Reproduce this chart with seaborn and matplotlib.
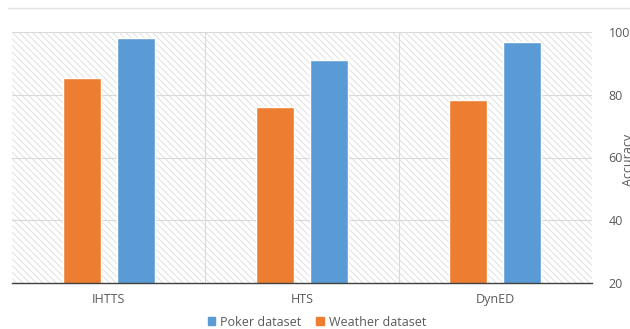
import matplotlib
matplotlib.use('Agg')
import matplotlib.pyplot as plt
import pandas as pd
import seaborn as sns
from matplotlib.patches import Rectangle

methods = ["IHTTS", "HTS", "DynED"]
weather_acc = [85.4, 76.2, 78.2]
poker_acc = [98.1, 91.2, 96.9]
y_ticks = [20, 40, 60, 80, 100]

df = pd.DataFrame({
    "method": methods * 2,
    "dataset": ["Weather dataset"] * 3 + ["Poker dataset"] * 3,
    "accuracy": weather_acc + poker_acc,
})

sns.set_theme(style="white")
plt.rcParams['font.family'] = ['Open Sans', 'DejaVu Sans']
plt.rcParams['hatch.linewidth'] = 0.6
text_col = "#595959"

fig = plt.figure(figsize=(6.3, 3.29), dpi=100)
ax = fig.add_axes([12 / 630, 46 / 329, 580 / 630, 251 / 329])

# hatched plot background
ax.add_patch(Rectangle((0, 0), 1, 1, transform=ax.transAxes, facecolor="white",
                       edgecolor="#dcdcdc", hatch="\\\\\\\\\\", linewidth=0, zorder=0))

sns.barplot(data=df, x="method", y="accuracy", hue="dataset",
            hue_order=["Weather dataset", "Poker dataset"],
            palette={"Weather dataset": "#ED7D31", "Poker dataset": "#5B9BD5"},
            width=0.56, gap=0.30, saturation=1, ax=ax, legend=False, zorder=3)

ax.set_ylim(20, 100)
ax.set_xlim(-0.5, 2.5)
ax.set_yticks(y_ticks)
ax.yaxis.tick_right()
ax.tick_params(axis="both", length=0, labelsize=9, colors=text_col)
ax.tick_params(axis="y", pad=12)
ax.tick_params(axis="x", pad=7)
for y in y_ticks[1:]:
    ax.axhline(y, color="#d9d9d9", linewidth=0.8, zorder=1)
for x in [0.5, 1.5]:
    ax.axvline(x, color="#d9d9d9", linewidth=0.8, zorder=1)
ax.set_xlabel("")
ax.set_ylabel("")
for side in ["top", "left", "right"]:
    ax.spines[side].set_visible(False)
ax.spines["bottom"].set_color("#404040")
ax.spines["bottom"].set_linewidth(1.0)
ax.spines["bottom"].set_zorder(4)

# axis title sits at the right edge, partly cut off as in the source
fig.text(622 / 630, 1 - 160 / 329, "Accuracy", rotation=90, ha="left", va="center",
         fontsize=9, color=text_col)

# legend
handles = [Rectangle((0, 0), 1, 1, color="#5B9BD5"), Rectangle((0, 0), 1, 1, color="#ED7D31")]
fig.legend(handles, ["Poker dataset", "Weather dataset"], loc="center",
           bbox_to_anchor=(317 / 630, 1 - 322 / 329), ncol=2, frameon=False,
           fontsize=9, handlelength=0.6, handleheight=0.6, handletextpad=0.4,
           columnspacing=1.2, labelcolor=text_col)

fig.add_artist(plt.Line2D([8 / 630, 1.0], [1 - 8 / 329, 1 - 8 / 329],
                          color="#e3e3e3", linewidth=1, transform=fig.transFigure))

fig.savefig("out.png", dpi=100)
